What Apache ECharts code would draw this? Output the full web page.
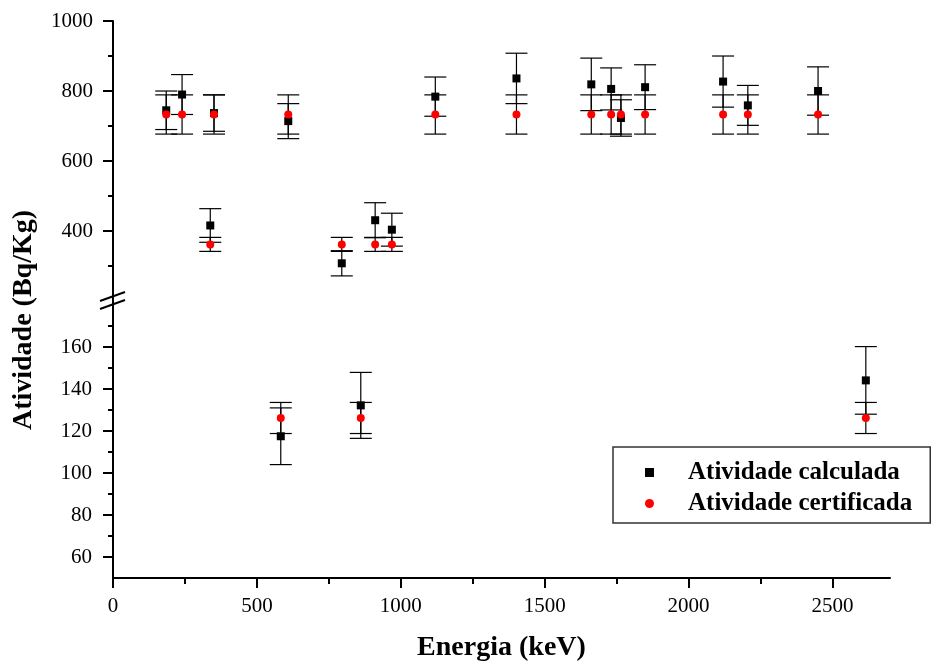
<!DOCTYPE html>
<html>
<head>
<meta charset="utf-8">
<script src="https://cdn.jsdelivr.net/npm/echarts@6/dist/echarts.min.js"></script>
<style>
  html, body { margin: 0; padding: 0; background: #fff; }
  #chart { width: 934px; height: 664px; }
</style>
</head>
<body>
<div id="chart"></div>
<script>
// Upper panel: gamma lines with activity above the axis break (keV, Bq/Kg)
const energiaSup     = [185, 240, 351, 609, 1120, 1402, 1662, 1731, 1765, 1849, 2120, 2206, 2450, 338, 795, 911, 969];
const calculadaSup   = [745, 790, 737, 714, 784, 836, 819, 806, 723, 811, 827, 759, 800, 416, 308, 431, 404];
const erroCalcSup    = [55, 57, 52, 50, 56, 72, 75, 60, 52, 64, 73, 57, 69, 48, 36, 50, 47];
const certificadaSup = [733, 733, 733, 733, 733, 733, 733, 733, 733, 733, 733, 733, 733, 362, 362, 362, 362];
const erroCertSup    = [56, 56, 56, 56, 56, 56, 56, 56, 56, 56, 56, 56, 56, 20, 20, 20, 20];

// Lower panel: gamma lines below the axis break
const energiaInf     = [583, 861, 2616];
const calculadaInf   = [117.5, 132.2, 144.1];
const erroCalcInf    = [13.5, 15.7, 16.1];
const certificadaInf = [126.2, 126.2, 126.2];
const erroCertInf    = [7.4, 7.4, 7.4];

// Tick positions
const xMajor    = [0, 500, 1000, 1500, 2000, 2500];
const xMinor    = [250, 750, 1250, 1750, 2250];
const ySupMajor = [400, 600, 800, 1000];
const ySupMinor = [300, 500, 700, 900];
const yInfMajor = [60, 80, 100, 120, 140, 160];
const yInfMinor = [70, 90, 110, 130, 150, 170];

const FONT = 'Liberation Serif';
const X_MAX = 2700;

function pontos(xs, ys) {
  return xs.map((x, i) => [x, ys[i]]);
}
function barras(xs, ys, es) {
  return xs.map((x, i) => [x, ys[i] - es[i], ys[i] + es[i]]);
}
const semSeparador = v => String(v);

// Vertical error bar with horizontal caps
function renderErro(params, api) {
  const x = api.value(0);
  const lo = api.coord([x, api.value(1)]);
  const hi = api.coord([x, api.value(2)]);
  const half = 11;
  const style = { stroke: '#000', lineWidth: 1.2 };
  return {
    type: 'group',
    children: [
      { type: 'line', shape: { x1: lo[0], y1: lo[1], x2: hi[0], y2: hi[1] }, style },
      { type: 'line', shape: { x1: lo[0] - half, y1: lo[1], x2: lo[0] + half, y2: lo[1] }, style },
      { type: 'line', shape: { x1: hi[0] - half, y1: hi[1], x2: hi[0] + half, y2: hi[1] }, style }
    ]
  };
}

function eixoX(grid, major, opts) {
  return Object.assign({
    type: 'value', gridIndex: grid, min: 0, max: X_MAX, position: 'bottom',
    axisLine: { show: major, onZero: false, lineStyle: { color: '#000', width: 2 } },
    axisTick: { show: true, inside: false, length: major ? 10 : 6,
                customValues: major ? xMajor : xMinor, lineStyle: { color: '#000', width: 2 } },
    axisLabel: { show: major, customValues: xMajor, formatter: semSeparador,
                 color: '#000', fontFamily: FONT, fontSize: 21, margin: 18 },
    splitLine: { show: false }
  }, opts || {});
}

function eixoY(grid, min, max, majorVals, minorVals, major, margem) {
  return {
    type: 'value', gridIndex: grid, min: min, max: max, position: 'left',
    axisLine: { show: major, onZero: false, lineStyle: { color: '#000', width: 2 } },
    axisTick: { show: true, inside: false, length: major ? 10 : 5,
                customValues: major ? majorVals : minorVals, lineStyle: { color: '#000', width: 2 } },
    axisLabel: { show: major, customValues: majorVals, formatter: semSeparador,
                 color: '#000', fontFamily: FONT, fontSize: 21, margin: margem },
    splitLine: { show: false }
  };
}

const chart = echarts.init(document.getElementById('chart'), null, { renderer: 'canvas' });

chart.setOption({
  backgroundColor: '#fff',
  animation: false,
  grid: [
    { left: 113, top: 21, width: 777, height: 271 },
    { left: 113, top: 305, width: 777, height: 273 }
  ],
  xAxis: [
    eixoX(0, false, { show: false }),
    eixoX(1, true, {
      name: 'Energia (keV)', nameLocation: 'middle', nameGap: 56,
      nameTextStyle: { color: '#000', fontFamily: FONT, fontWeight: 'bold', fontSize: 28 }
    }),
    eixoX(1, false)
  ],
  yAxis: [
    eixoY(0, 226, 1000, ySupMajor, ySupMinor, true, 20),
    eixoY(0, 226, 1000, ySupMajor, ySupMinor, false, 20),
    eixoY(1, 50, 180, yInfMajor, yInfMinor, true, 21),
    eixoY(1, 50, 180, yInfMajor, yInfMinor, false, 21)
  ],
  legend: {
    orient: 'vertical',
    left: 613, top: 447,
    padding: [13, 18, 7, 32],
    itemGap: 6,
    itemWidth: 9, itemHeight: 9,
    backgroundColor: '#fff',
    borderColor: '#333', borderWidth: 1.5,
    selectedMode: false,
    textStyle: { color: '#000', fontFamily: FONT, fontWeight: 'bold', fontSize: 25, padding: [0, 0, 0, 29] },
    data: ['Atividade calculada', 'Atividade certificada']
  },
  series: [
    { type: 'custom', xAxisIndex: 0, yAxisIndex: 0, renderItem: renderErro, encode: { x: 0, y: [1, 2] },
      data: barras(energiaSup, calculadaSup, erroCalcSup), z: 1 },
    { type: 'custom', xAxisIndex: 0, yAxisIndex: 0, renderItem: renderErro, encode: { x: 0, y: [1, 2] },
      data: barras(energiaSup, certificadaSup, erroCertSup), z: 1 },
    { type: 'custom', xAxisIndex: 1, yAxisIndex: 2, renderItem: renderErro, encode: { x: 0, y: [1, 2] },
      data: barras(energiaInf, calculadaInf, erroCalcInf), z: 1 },
    { type: 'custom', xAxisIndex: 1, yAxisIndex: 2, renderItem: renderErro, encode: { x: 0, y: [1, 2] },
      data: barras(energiaInf, certificadaInf, erroCertInf), z: 1 },
    { name: 'Atividade calculada', type: 'scatter', xAxisIndex: 0, yAxisIndex: 0,
      symbol: 'rect', symbolSize: 8, itemStyle: { color: '#000', opacity: 1 }, z: 3,
      data: pontos(energiaSup, calculadaSup) },
    { name: 'Atividade calculada', type: 'scatter', xAxisIndex: 1, yAxisIndex: 2,
      symbol: 'rect', symbolSize: 8, itemStyle: { color: '#000', opacity: 1 }, z: 3,
      data: pontos(energiaInf, calculadaInf) },
    { name: 'Atividade certificada', type: 'scatter', xAxisIndex: 0, yAxisIndex: 0,
      symbol: 'circle', symbolSize: 8, itemStyle: { color: '#ff0000', opacity: 1 }, z: 4,
      data: pontos(energiaSup, certificadaSup) },
    { name: 'Atividade certificada', type: 'scatter', xAxisIndex: 1, yAxisIndex: 2,
      symbol: 'circle', symbolSize: 8, itemStyle: { color: '#ff0000', opacity: 1 }, z: 4,
      data: pontos(energiaInf, certificadaInf) }
  ],
  graphic: [
    // shared y-axis title
    { type: 'text', x: 24, y: 320, rotation: Math.PI / 2,
      style: { text: 'Atividade (Bq/Kg)', fill: '#000', font: 'bold 28px "Liberation Serif"',
               textAlign: 'center', textVerticalAlign: 'middle' } },
    // axis break marks
    { type: 'line', shape: { x1: 113, y1: 291, x2: 113, y2: 306 }, style: { stroke: '#000', lineWidth: 2 } },
    { type: 'line', shape: { x1: 100, y1: 301, x2: 125, y2: 292 }, style: { stroke: '#000', lineWidth: 2 } },
    { type: 'line', shape: { x1: 100, y1: 309, x2: 125, y2: 300 }, style: { stroke: '#000', lineWidth: 2 } }
  ]
});
</script>
</body>
</html>
